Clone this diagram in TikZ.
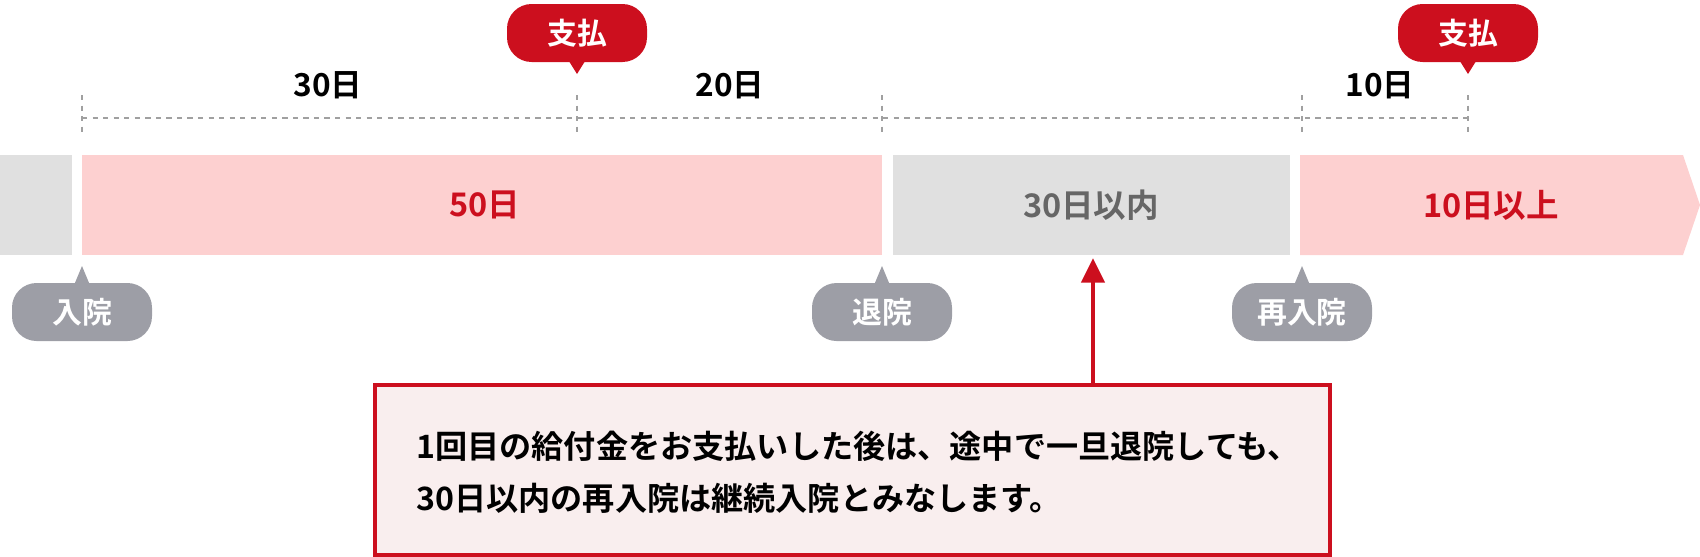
\documentclass[tikz,border=0pt]{standalone}
\usetikzlibrary{arrows.meta}
\usepackage{fontspec}
\setmainfont{Noto Sans CJK JP}[BoldFont={Noto Sans CJK JP Bold}]
\definecolor{pinkbar}{HTML}{FDD0D0}
\definecolor{greybar}{HTML}{E0E0E0}
\definecolor{redc}{HTML}{CC0F1E}
\definecolor{greyc}{HTML}{9D9EA6}
\definecolor{dashc}{HTML}{A0A0A0}
\definecolor{boxfill}{HTML}{F9EEEE}
\tikzset{
  bartext/.style={font=\fontsize{18.5}{20}\selectfont\bfseries},
  daytext/.style={font=\fontsize{18}{20}\selectfont\bfseries},
  callred/.style={fill=redc, rounded corners=14pt, minimum width=140*0.02cm, minimum height=58*0.02cm, text=white, font=\fontsize{17}{19}\selectfont\bfseries},
  callgrey/.style={fill=greyc, rounded corners=14pt, minimum width=140*0.02cm, minimum height=58*0.02cm, text=white, font=\fontsize{17}{19}\selectfont\bfseries},
  dashl/.style={draw=dashc, line width=1.6pt, dash pattern=on 3pt off 3pt}
}
\begin{document}
\begin{tikzpicture}[x=0.02cm,y=-0.02cm]
\useasboundingbox (0,0) rectangle (1700,556);
% bars
\fill[greybar] (0,155) rectangle (72,255);
\fill[pinkbar] (82,155) rectangle (882,255);
\fill[greybar] (893,155) rectangle (1290,255);
\fill[pinkbar] (1300,155) -- (1683,155) -- (1700,205) -- (1683,255) -- (1300,255) -- cycle;
\node[bartext, text=redc] (b1) at (485,205) {50日};
\node[bartext, text=black!60] (b2) at (1091,205) {30日以内};
\node[bartext, text=redc] (b3) at (1491,205) {10日以上};
% dashed scale
\draw[dashl] (82,118) -- (1468,118);
\foreach \x in {82,577,882,1302,1468} \draw[dashl] (\x,95) -- (\x,136);
\node[daytext] (d1) at (328,85) {30日};
\node[daytext] (d2) at (730,85) {20日};
\node[daytext] (d3) at (1380,85) {10日};
% red callouts
\foreach \x/\n in {577/p1,1468/p2}{
  \fill[redc] (\x-10,58) -- (\x,74) -- (\x+10,58) -- cycle;
  \node[callred] (\n) at (\x,33) {支払};
}
% grey callouts
\foreach \x/\n/\t in {82/g1/入院,882/g2/退院,1302/g3/再入院}{
  \fill[greyc] (\x-10,290) -- (\x,266) -- (\x+10,290) -- cycle;
  \node[callgrey] (\n) at (\x,312) {\t};
}
% box
\node[draw=redc, line width=2.2pt, fill=boxfill, minimum width=955*0.02cm, minimum height=170*0.02cm, anchor=north west, inner sep=0] (box) at (373,383) {};
\node[anchor=west, align=left, inner sep=0, font=\fontsize{18.3}{29.5}\selectfont\bfseries] (txt) at (416,472)
 {1回目の給付金をお支払いした後は、途中で一旦退院しても、\\30日以内の再入院は継続入院とみなします。};
\coordinate (tip) at (1093,258);
\draw[redc, line width=2.6pt, -{Triangle[length=14pt,width=13pt]}] (box.north -| tip) -- (tip);
\end{tikzpicture}
\end{document}
